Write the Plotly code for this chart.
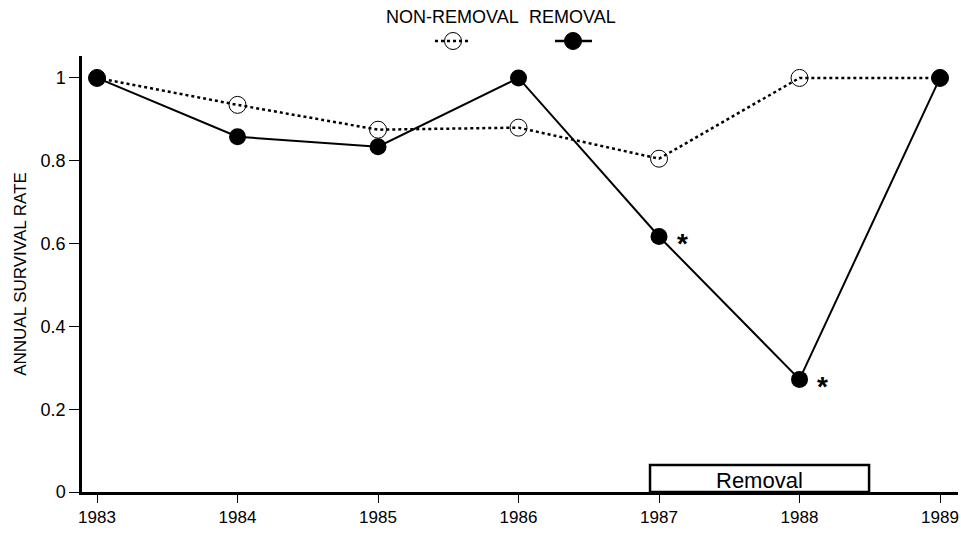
import plotly.graph_objects as go

years = [1983, 1984, 1985, 1986, 1987, 1988, 1989]
non_removal = [1.0, 0.935, 0.875, 0.88, 0.805, 1.0, 1.0]
removal = [1.0, 0.858, 0.834, 1.0, 0.617, 0.272, 1.0]
significant_years = [1987, 1988]
removal_period = [1986.936, 1988.495]
y_ticks = [0, 0.2, 0.4, 0.6, 0.8, 1]
y_tick_labels = ["0", "0.2", "0.4", "0.6", "0.8", "1"]

FONT = "Liberation Sans, Arial, sans-serif"

W, H = 961, 533
L, R, T, B = 82, 3, 56, 41
PW, PH = W - L - R, H - T - B


def px(xp):
    return (xp - L) / PW


def py(yp):
    return (H - B - yp) / PH


fig = go.Figure()
fig.add_trace(go.Scatter(
    x=years, y=non_removal, mode="lines+markers", name="NON-REMOVAL",
    line=dict(color="black", width=2.5, dash="dot"),
    marker=dict(symbol="circle-open", size=17, color="black", line=dict(width=1)),
    showlegend=False, cliponaxis=False))
fig.add_trace(go.Scatter(
    x=years, y=removal, mode="lines+markers", name="REMOVAL",
    line=dict(color="black", width=2),
    marker=dict(symbol="circle", size=17, color="black"),
    showlegend=False, cliponaxis=False))

# asterisks for significant years
for yr in significant_years:
    v = removal[years.index(yr)]
    fig.add_annotation(x=yr, y=v, text="<b>*</b>", showarrow=False, xshift=23, yshift=-7,
                       font=dict(family=FONT, size=28, color="black"))

# removal period box
fig.add_shape(type="rect", x0=removal_period[0], x1=removal_period[1], y0=0, y1=0.065,
              line=dict(color="black", width=2.5), fillcolor="white", layer="above")
fig.add_annotation(x=(removal_period[0] + removal_period[1]) / 2, y=0.028, text="Removal",
                   showarrow=False, font=dict(family=FONT, size=22, color="black"))

# custom legend (text above symbols)
fig.add_annotation(xref="paper", yref="paper", x=px(452), y=py(17),
                   text="NON-REMOVAL", showarrow=False, yanchor="middle",
                   font=dict(family=FONT, size=18, color="black"))
fig.add_annotation(xref="paper", yref="paper", x=px(572), y=py(17),
                   text="REMOVAL", showarrow=False, yanchor="middle",
                   font=dict(family=FONT, size=18, color="black"))

fig.add_shape(type="line", xref="paper", yref="paper", x0=px(435), x1=px(470), y0=py(41), y1=py(41),
              line=dict(color="black", width=2.5, dash="dot"))
fig.add_shape(type="circle", xref="paper", yref="paper", x0=px(444.5), x1=px(461.5), y0=py(49.5), y1=py(32.5),
              line=dict(color="black", width=1))
fig.add_shape(type="line", xref="paper", yref="paper", x0=px(555), x1=px(592), y0=py(41), y1=py(41),
              line=dict(color="black", width=2.5))
fig.add_shape(type="circle", xref="paper", yref="paper", x0=px(564.5), x1=px(581.5), y0=py(49.5), y1=py(32.5),
              line=dict(color="black", width=1), fillcolor="black")

fig.update_layout(
    width=W, height=H,
    margin=dict(l=L, r=R, t=T, b=B, autoexpand=False),
    paper_bgcolor="white", plot_bgcolor="white",
    font=dict(family=FONT, size=17, color="black"),
    xaxis=dict(range=[1982.893, 1989.128], tickvals=years, ticktext=[str(y) for y in years],
               showgrid=False, zeroline=False, showline=True, linecolor="black", linewidth=2.5,
               ticks="outside", ticklen=8, tickwidth=1, tickcolor="black",
               tickfont=dict(family=FONT, size=17)),
    yaxis=dict(range=[0, 1.053], tickvals=y_ticks, ticktext=y_tick_labels,
               showgrid=False, zeroline=False, showline=True, linecolor="black", linewidth=2.5,
               ticks="outside", ticklen=10, tickwidth=1, tickcolor="black",
               tickfont=dict(family=FONT, size=18),
               title=dict(text="ANNUAL SURVIVAL RATE", font=dict(family=FONT, size=17), standoff=10)),
)

fig.write_html("out.html", config={"displayModeBar": False},
               post_script="document.body.style.margin='0';document.body.style.padding='0';")
